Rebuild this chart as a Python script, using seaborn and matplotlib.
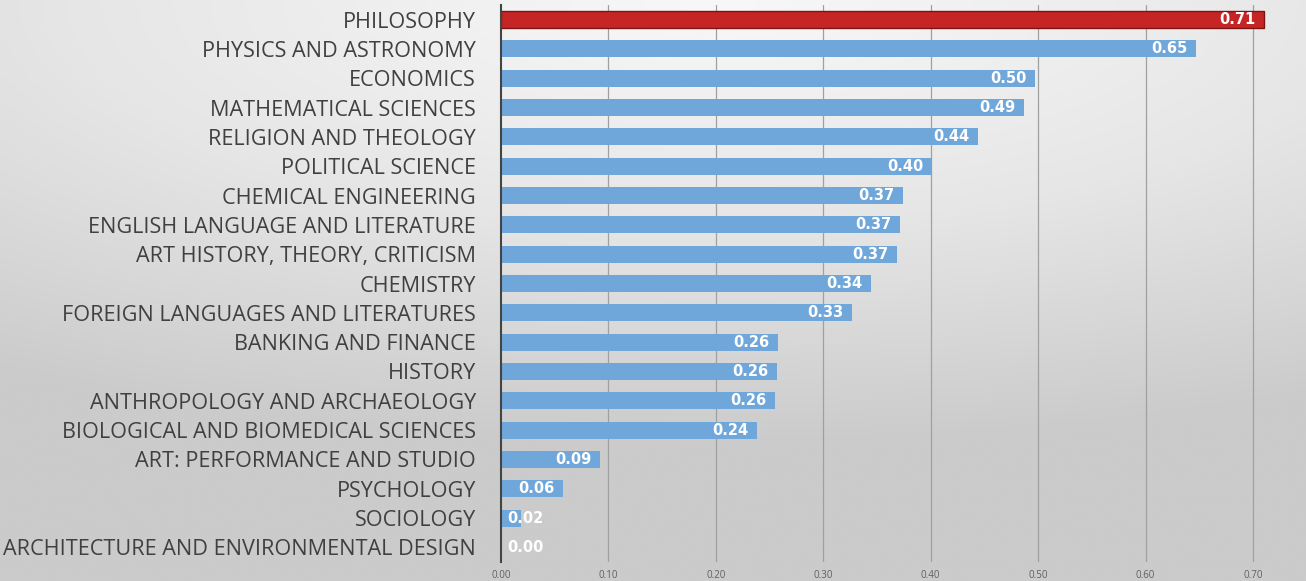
import numpy as np
import pandas as pd
import matplotlib
matplotlib.use("Agg")
import matplotlib.pyplot as plt
import seaborn as sns

# Data
majors = [
    "PHILOSOPHY", "PHYSICS AND ASTRONOMY", "ECONOMICS", "MATHEMATICAL SCIENCES",
    "RELIGION AND THEOLOGY", "POLITICAL SCIENCE", "CHEMICAL ENGINEERING",
    "ENGLISH LANGUAGE AND LITERATURE", "ART HISTORY, THEORY, CRITICISM",
    "CHEMISTRY", "FOREIGN LANGUAGES AND LITERATURES", "BANKING AND FINANCE",
    "HISTORY", "ANTHROPOLOGY AND ARCHAEOLOGY", "BIOLOGICAL AND BIOMEDICAL SCIENCES",
    "ART: PERFORMANCE AND STUDIO", "PSYCHOLOGY", "SOCIOLOGY",
    "ARCHITECTURE AND ENVIRONMENTAL DESIGN",
]
scores = [0.710, 0.647, 0.497, 0.487, 0.444, 0.401, 0.374, 0.371, 0.369,
          0.344, 0.327, 0.258, 0.257, 0.255, 0.238, 0.092, 0.058, 0.019, 0.0]
xticks = [0.0, 0.1, 0.2, 0.3, 0.4, 0.5, 0.6, 0.7]

df = pd.DataFrame({"major": majors, "score": scores})
palette = {m: ("#c62525" if m == "PHILOSOPHY" else "#6fa7db") for m in majors}

sns.set_style("white")
plt.rcParams["font.family"] = ["Open Sans", "DejaVu Sans"]

fig = plt.figure(figsize=(13.06, 5.81), dpi=100)

# soft grey gradient background
bg = fig.add_axes([0, 0, 1, 1], zorder=-10)
yy, xx = np.mgrid[0:1:200j, 0:1:400j]
r = np.sqrt(((xx - 0.55) * 1.0) ** 2 + ((yy - 0.0) * 1.3) ** 2)
bg.imshow(r, cmap=sns.blend_palette(["#f8f8f8", "#e6e6e6", "#cbcbcb"], as_cmap=True),
          aspect="auto", extent=[0, 1, 1, 0], vmin=0, vmax=1.0)
bg.axis("off")

ax = fig.add_axes([501 / 1306, 1 - 562 / 581, 773.5 / 1306, 557 / 581])
ax.set_facecolor("none")
sns.barplot(data=df, x="score", y="major", hue="major", palette=palette,
            orient="h", width=0.58, legend=False, saturation=1,
            linewidth=0, ax=ax)
for p in ax.patches:
    if p.get_facecolor()[0] > 0.7:
        p.set_edgecolor("#7a1515")
        p.set_linewidth(1.0)

ax.set_xlim(0, 0.72)
ax.set_ylim(18.5, -0.5)
ax.set_xticks(xticks)
ax.set_xticklabels([f"{t:.2f}" for t in xticks], fontsize=7, color="#606060")
ax.tick_params(axis="x", length=0, pad=6)
ax.tick_params(axis="y", length=0, pad=18, labelsize=15.6, labelcolor="#404040")
ax.set_xlabel("")
ax.set_ylabel("")
for t in xticks[1:]:
    ax.axvline(t, color="#a0a0a0", lw=0.9, zorder=0)
for s in ["top", "right", "bottom"]:
    ax.spines[s].set_visible(False)
ax.spines["left"].set_color("#444444")
ax.spines["left"].set_linewidth(1.5)

for i, v in enumerate(scores):
    if v < 0.05:
        ax.text(0.006, i, f"{v:.2f}", ha="left", va="center", family="DejaVu Sans",
                color="white", fontsize=10.5, fontweight="bold")
    else:
        ax.text(v - 0.008, i, f"{v:.2f}", ha="right", va="center", family="DejaVu Sans",
                color="white", fontsize=10.5, fontweight="bold")

fig.savefig("out.png", dpi=100)
